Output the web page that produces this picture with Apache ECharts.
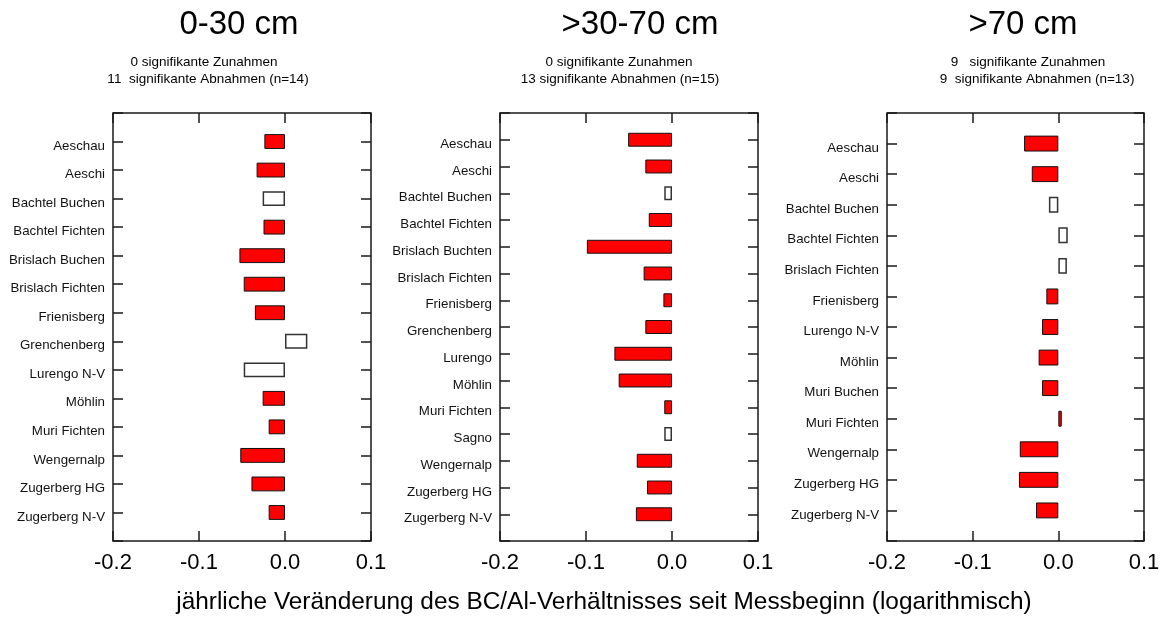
<!DOCTYPE html>
<html>
<head>
<meta charset="utf-8">
<script src="https://cdn.jsdelivr.net/npm/echarts@6/dist/echarts.min.js"></script>
<style>
  html, body { margin: 0; padding: 0; background: #fff; }
  #chart { width: 1163px; height: 619px; }
</style>
</head>
<body>
<div id="chart"></div>
<script>
// Annual change of the BC/Al ratio per site and soil depth (log scale)
const sitesTop = ['Aeschau', 'Aeschi', 'Bachtel Buchen', 'Bachtel Fichten', 'Brislach Buchen',
  'Brislach Fichten', 'Frienisberg', 'Grenchenberg', 'Lurengo N-V', 'Möhlin', 'Muri Fichten',
  'Wengernalp', 'Zugerberg HG', 'Zugerberg N-V'];
const valuesTop = [-0.024, -0.033, -0.026, -0.025, -0.053, -0.048, -0.035, 0.026, -0.048,
  -0.026, -0.019, -0.052, -0.039, -0.019];
const significantTop = [1, 1, 0, 1, 1, 1, 1, 0, 0, 1, 1, 1, 1, 1];

const sitesMid = ['Aeschau', 'Aeschi', 'Bachtel Buchen', 'Bachtel Fichten', 'Brislach Buchten',
  'Brislach Fichten', 'Frienisberg', 'Grenchenberg', 'Lurengo', 'Möhlin', 'Muri Fichten',
  'Sagno', 'Wengernalp', 'Zugerberg HG', 'Zugerberg N-V'];
const valuesMid = [-0.051, -0.031, -0.009, -0.027, -0.099, -0.033, -0.010, -0.031, -0.067,
  -0.062, -0.009, -0.009, -0.041, -0.029, -0.042];
const significantMid = [1, 1, 0, 1, 1, 1, 1, 1, 1, 1, 1, 0, 1, 1, 1];

const sitesDeep = ['Aeschau', 'Aeschi', 'Bachtel Buchen', 'Bachtel Fichten', 'Brislach Fichten',
  'Frienisberg', 'Lurengo N-V', 'Möhlin', 'Muri Buchen', 'Muri Fichten', 'Wengernalp',
  'Zugerberg HG', 'Zugerberg N-V'];
const valuesDeep = [-0.040, -0.031, -0.011, 0.011, 0.010, -0.014, -0.019, -0.023, -0.019,
  0.004, -0.045, -0.046, -0.026];
const significantDeep = [1, 1, 0, 0, 0, 1, 1, 1, 1, 1, 1, 1, 1];

const xTicks = [-0.2, -0.1, 0.0, 0.1];

const panelTitles = ['0-30 cm', '>30-70 cm', '>70 cm'];
const summaryIncrease = ['0 signifikante Zunahmen', '0 signifikante Zunahmen', '9   signifikante Zunahmen'];
const summaryDecrease = ['11  signifikante Abnahmen (n=14)', '13 signifikante Abnahmen (n=15)', '9  signifikante Abnahmen (n=13)'];
const axisTitle = 'jährliche Veränderung des BC/Al-Verhältnisses seit Messbeginn (logarithmisch)';

const FONT = '"Liberation Sans", Arial, Helvetica, sans-serif';
const INK = '#1a1a1a';

const panels = [
  { sites: sitesTop, values: valuesTop, sig: significantTop, left: 113, width: 258,
    titleX: 239, incX: 204, decX: 208 },
  { sites: sitesMid, values: valuesMid, sig: significantMid, left: 500, width: 258,
    titleX: 640, incX: 619, decX: 620 },
  { sites: sitesDeep, values: valuesDeep, sig: significantDeep, left: 887, width: 257,
    titleX: 1023, incX: 1028, decX: 1037 }
];

const grids = [], xAxes = [], yAxes = [], series = [], graphics = [];

panels.forEach((p, i) => {
  grids.push({
    left: p.left, top: 113, width: p.width, height: 428,
    show: true, borderColor: INK, borderWidth: 1.5, backgroundColor: 'transparent'
  });

  const tickStyle = { show: true, inside: true, length: 10, lineStyle: { color: INK, width: 1.5 } };
  const xBase = {
    type: 'value', gridIndex: i, min: xTicks[0], max: xTicks[xTicks.length - 1], interval: 0.1,
    axisLine: { show: false, onZero: false }, splitLine: { show: false }, axisTick: tickStyle
  };
  xAxes.push(Object.assign({}, xBase, {
    position: 'bottom',
    axisLabel: {
      fontSize: 22, color: '#000', fontFamily: FONT, margin: 11,
      formatter: v => (Math.abs(v) < 1e-9 ? '0.0' : v.toFixed(1))
    }
  }));
  xAxes.push(Object.assign({}, xBase, { position: 'top', axisLabel: { show: false } }));

  // blank slots at both ends leave half-free space above the first and below the last site
  const cats = [''].concat(p.sites, ['']);
  const yBase = {
    type: 'category', gridIndex: i, data: cats, inverse: true, boundaryGap: false,
    axisLine: { show: false, onZero: false }, splitLine: { show: false },
    axisTick: Object.assign({ interval: 0 }, tickStyle)
  };
  yAxes.push(Object.assign({}, yBase, {
    position: 'left',
    axisLabel: {
      interval: 0, margin: 8,
      formatter: v => (v ? '{site|' + v + '}' : ''),
      rich: { site: { fontSize: 13.3, color: '#111', fontFamily: FONT, padding: [9, 0, 0, 0] } }
    }
  }));
  yAxes.push(Object.assign({}, yBase, { position: 'right', axisLabel: { show: false } }));

  const data = [null].concat(p.values.map((v, k) => ({
    value: v,
    itemStyle: p.sig[k]
      ? { color: '#ff0000', borderColor: '#111', borderWidth: 1 }
      : { color: '#ffffff', borderColor: '#333', borderWidth: 1.5 }
  })), [null]);

  series.push({
    type: 'bar', xAxisIndex: 2 * i, yAxisIndex: 2 * i, data: data,
    barWidth: '52%', silent: true, animation: false
  });

  graphics.push({
    type: 'text', x: p.titleX, y: 25,
    style: { text: panelTitles[i], fontSize: 33, fontFamily: FONT, fill: '#000',
      align: 'center', verticalAlign: 'middle', textAlign: 'center', textVerticalAlign: 'middle' }
  });
  graphics.push({
    type: 'text', x: p.incX, y: 62,
    style: { text: summaryIncrease[i], fontSize: 13.5, fontFamily: FONT, fill: '#000',
      align: 'center', verticalAlign: 'middle', textAlign: 'center', textVerticalAlign: 'middle' }
  });
  graphics.push({
    type: 'text', x: p.decX, y: 79,
    style: { text: summaryDecrease[i], fontSize: 13.5, fontFamily: FONT, fill: '#000',
      align: 'center', verticalAlign: 'middle', textAlign: 'center', textVerticalAlign: 'middle' }
  });
});

graphics.push({
  type: 'text', x: 604, y: 602,
  style: { text: axisTitle, fontSize: 24.4, fontFamily: FONT, fill: '#000',
    align: 'center', verticalAlign: 'middle', textAlign: 'center', textVerticalAlign: 'middle' }
});

const chart = echarts.init(document.getElementById('chart'), null, { renderer: 'canvas' });
chart.setOption({
  backgroundColor: '#ffffff',
  animation: false,
  grid: grids,
  xAxis: xAxes,
  yAxis: yAxes,
  series: series,
  graphic: graphics
});
</script>
</body>
</html>
